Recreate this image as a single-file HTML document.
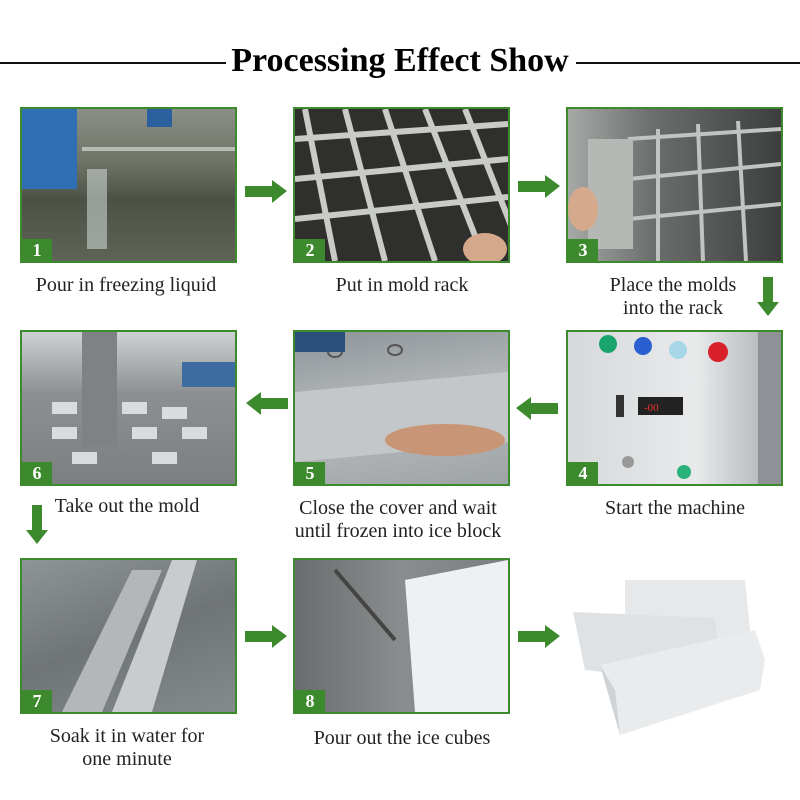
<!DOCTYPE html>
<html><head><meta charset="utf-8"><style>
body{margin:0;width:800px;height:800px;background:#fff;position:relative;overflow:hidden;font-family:"Liberation Serif",serif;}
.t{position:absolute;left:0;top:42px;width:800px;text-align:center;font-weight:bold;font-size:34px;color:#000;}
.t span{display:inline-block;transform:scaleX(1.0);}
.ln{position:absolute;top:62px;height:2px;background:#111;}
.p{position:absolute;width:213px;height:152px;border:2px solid #3d8a2e;overflow:hidden;}
.b{position:absolute;left:0;bottom:0;width:30px;height:22px;background:#3d8a2e;color:#fff;font-weight:bold;font-size:18px;text-align:center;line-height:22px;}
.c{position:absolute;width:260px;text-align:center;font-size:20px;line-height:23px;color:#222;}
svg{position:absolute;}
</style></head><body>
<div class="ln" style="left:0;width:226px"></div>
<div class="ln" style="left:576px;width:224px"></div>
<div class="t"><span>Processing Effect Show</span></div>

<div class="p" style="left:20px;top:107px;background:linear-gradient(180deg,#8a8f87 0%,#6f7466 35%,#4c5146 60%,#5f6457 100%)">
<div style="position:absolute;left:0;top:0;width:55px;height:80px;background:#2f6fb3"></div>
<div style="position:absolute;left:60px;top:38px;width:160px;height:4px;background:#b8bcb6"></div>
<div style="position:absolute;left:65px;top:60px;width:20px;height:80px;background:#c9d0d0;opacity:.6"></div>
<div style="position:absolute;left:125px;top:0;width:25px;height:18px;background:#2b5f9e"></div>
<div class="b">1</div></div>
<div class="c" style="left:-4px;top:274px">Pour in freezing liquid</div>

<div class="p" style="left:293px;top:107px;background:#2f302e">
<svg width="213" height="152"><g stroke="#c8cbc8" stroke-width="6">
<line x1="10" y1="0" x2="40" y2="152"/><line x1="50" y1="0" x2="90" y2="152"/><line x1="90" y1="0" x2="140" y2="152"/><line x1="130" y1="0" x2="190" y2="152"/><line x1="170" y1="0" x2="230" y2="152"/>
<line x1="0" y1="30" x2="213" y2="15"/><line x1="0" y1="70" x2="213" y2="50"/><line x1="0" y1="110" x2="213" y2="88"/></g>
<ellipse cx="190" cy="140" rx="22" ry="16" fill="#d4a88a"/></svg>
<div class="b">2</div></div>
<div class="c" style="left:272px;top:274px">Put in mold rack</div>

<div class="p" style="left:566px;top:107px;background:linear-gradient(90deg,#a6a9a6,#6b6e6c 40%,#3d3f3e)">
<svg width="213" height="152"><g stroke="#c0c3c0" stroke-width="4" fill="none">
<line x1="60" y1="30" x2="213" y2="20"/><line x1="60" y1="70" x2="213" y2="55"/><line x1="60" y1="110" x2="213" y2="95"/>
<line x1="90" y1="20" x2="90" y2="152"/><line x1="130" y1="15" x2="135" y2="152"/><line x1="170" y1="12" x2="178" y2="152"/></g>
<rect x="20" y="30" width="45" height="110" fill="#b5b8b5"/><ellipse cx="15" cy="100" rx="15" ry="22" fill="#d5a98b"/></svg>
<div class="b">3</div></div>
<div class="c" style="left:543px;top:274px">Place the molds<br>into the rack</div>

<div class="p" style="left:566px;top:330px;background:linear-gradient(90deg,#d6d9db,#e8eaeb 60%,#a9adb0)">
<svg width="213" height="152"><circle cx="40" cy="12" r="9" fill="#1aa56e"/><circle cx="75" cy="14" r="9" fill="#2a5fd0"/><circle cx="110" cy="18" r="9" fill="#a8d7e8"/><circle cx="150" cy="20" r="10" fill="#d8202a"/>
<rect x="70" y="65" width="45" height="18" fill="#222"/><text x="76" y="79" font-size="11" fill="#e33">-00</text>
<rect x="48" y="63" width="8" height="22" fill="#333"/><circle cx="116" cy="140" r="7" fill="#2ab27a"/><circle cx="60" cy="130" r="6" fill="#999"/>
<rect x="190" y="0" width="23" height="152" fill="#8e9296"/></svg>
<div class="b">4</div></div>
<div class="c" style="left:545px;top:497px">Start the machine</div>

<div class="p" style="left:293px;top:330px;background:linear-gradient(170deg,#8d9397,#b8bcbf 50%,#9ea3a6)">
<svg width="213" height="152"><polygon points="0,60 213,40 213,110 0,130" fill="#c4c7c9"/><ellipse cx="40" cy="20" rx="7" ry="5" fill="none" stroke="#555" stroke-width="2"/><ellipse cx="100" cy="18" rx="7" ry="5" fill="none" stroke="#555" stroke-width="2"/>
<ellipse cx="150" cy="108" rx="60" ry="16" fill="#c99577"/><rect x="0" y="0" width="50" height="20" fill="#2a4f7a"/></svg>
<div class="b">5</div></div>
<div class="c" style="left:268px;top:497px">Close the cover and wait<br>until frozen into ice block</div>

<div class="p" style="left:20px;top:330px;background:linear-gradient(180deg,#cfd2d3,#8c9092 40%,#7b7f80)">
<svg width="213" height="152"><rect x="60" y="0" width="35" height="115" fill="#7e8285"/>
<g fill="#d8dcdd"><rect x="30" y="70" width="25" height="12"/><rect x="100" y="70" width="25" height="12"/><rect x="140" y="75" width="25" height="12"/><rect x="30" y="95" width="25" height="12"/><rect x="110" y="95" width="25" height="12"/><rect x="160" y="95" width="25" height="12"/><rect x="50" y="120" width="25" height="12"/><rect x="130" y="120" width="25" height="12"/></g>
<rect x="160" y="30" width="53" height="25" fill="#3d6da0"/></svg>
<div class="b">6</div></div>
<div class="c" style="left:-3px;top:495px">Take out the mold</div>

<div class="p" style="left:20px;top:558px;background:linear-gradient(160deg,#8f9495,#6f7476 50%,#858a8b)">
<svg width="213" height="152"><polygon points="90,152 150,0 175,0 130,152" fill="#c9cccd"/><polygon points="40,152 110,10 140,10 80,152" fill="#b3b7b8"/></svg>
<div class="b">7</div></div>
<div class="c" style="left:-3px;top:725px">Soak it in water for<br>one minute</div>

<div class="p" style="left:293px;top:558px;background:linear-gradient(90deg,#6a6d6e,#8a8d8e 50%,#7b7e7f)">
<svg width="213" height="152"><polygon points="110,20 213,0 213,152 120,152" fill="#eef0f1"/><line x1="40" y1="10" x2="100" y2="80" stroke="#444" stroke-width="4"/></svg>
<div class="b">8</div></div>
<div class="c" style="left:272px;top:727px">Pour out the ice cubes</div>

<svg style="left:565px;top:570px" width="230" height="200">
<polygon points="60,10 180,10 185,60 180,100 60,90" fill="#e6e8ea"/>
<polygon points="8,42 150,48 155,95 110,110 20,100" fill="#dfe2e5"/>
<polygon points="35,95 190,60 200,90 195,120 55,165" fill="#e9ebed"/>
<polygon points="35,95 55,165 50,120" fill="#cfd3d6"/>
</svg>

<svg width="800" height="800" style="left:0;top:0">
<g fill="#3d8a2e">
<polygon points="245,186 272,186 272,180 287,191 272,203 272,197 245,197"/>
<polygon points="518,181 545,181 545,175 560,186 545,198 545,192 518,192"/>
<polygon points="763,277 773,277 773,302 779,302 768,316 757,302 763,302"/>
<polygon points="558,403 531,403 531,397 516,408 531,420 531,414 558,414"/>
<polygon points="288,398 261,398 261,392 246,403 261,415 261,409 288,409"/>
<polygon points="32,505 42,505 42,530 48,530 37,544 26,530 32,530"/>
<polygon points="245,631 272,631 272,625 287,636 272,648 272,642 245,642"/>
<polygon points="518,631 545,631 545,625 560,636 545,648 545,642 518,642"/>
</g></svg>
</body></html>
